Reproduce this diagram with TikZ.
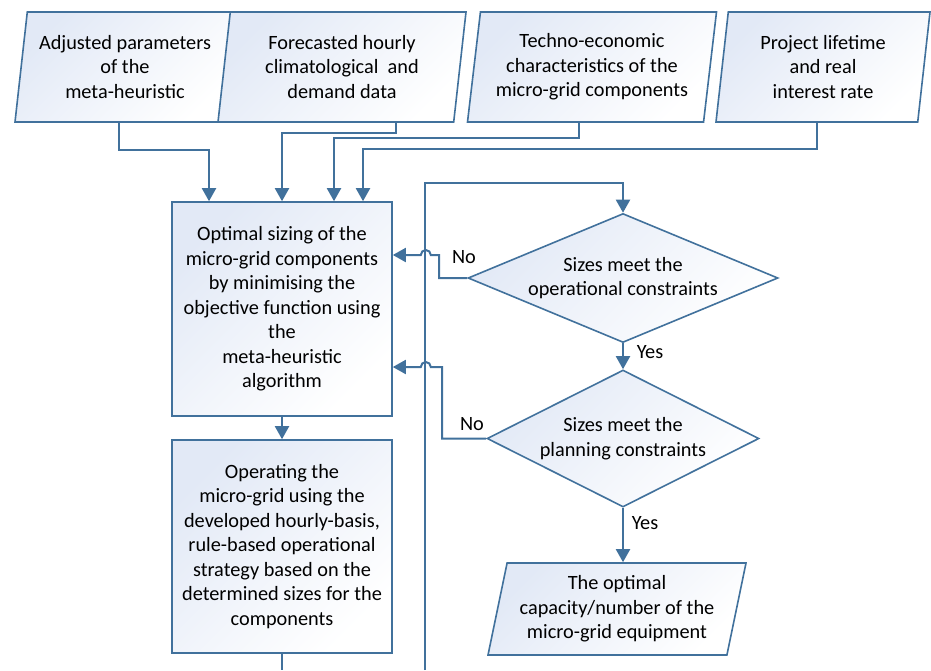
\documentclass[tikz,border=0pt]{standalone}
\usepackage{fontspec}
\setmainfont{Carlito}
\usetikzlibrary{shapes.geometric,arrows.meta}
\definecolor{edgeblue}{RGB}{65,113,156}
\definecolor{paleblue}{RGB}{226,233,246}
\begin{document}
\begin{tikzpicture}[x=1pt,y=-1pt,
		font=\fontsize{20.3}{24.5}\selectfont,
		shadebox/.style={draw=edgeblue,line width=1.6pt,top color=paleblue,bottom color=white,shading angle=45,align=center,inner sep=0pt},
		databox/.style={shadebox,trapezium,trapezium stretches body,trapezium left angle=79,trapezium right angle=101,minimum height=110},
		procbox/.style={shadebox,rectangle,minimum width=220},
		testbox/.style={shadebox,diamond},
		arr/.style={draw=edgeblue,line width=2pt,-{Triangle[width=14pt,length=13pt]}},
		link/.style={draw=edgeblue,line width=2pt},
		lbl/.style={inner sep=0pt}]
		\useasboundingbox (0,0) rectangle (931,670);
	
		\node[databox,minimum width=220](p1) at (125,67) {Adjusted parameters\\of the\\meta-heuristic};
		\node[databox,minimum width=248](p2) at (342,67) {Forecasted hourly\\climatological\ \ and\\demand data};
		\node[databox,minimum width=249](p3) at (592,67) {Techno-economic\\characteristics of the\\micro-grid components};
		\node[databox,minimum width=214](p4) at (823,67) {Project lifetime\\and real\\interest rate};
	
		\node[procbox,minimum height=214](opt) at (282,309) {Optimal sizing of the\\micro-grid components\\by minimising the\\objective function using\\the\\meta-heuristic\\algorithm};
		\node[procbox,minimum height=213](oper) at (282,546.5) {Operating the\\micro-grid using the\\developed hourly-basis,\\rule-based operational\\strategy based on the\\determined sizes for the\\components};
	
		\node[testbox,aspect=2.4,minimum width=310,minimum height=129](d1) at (623,278) {Sizes meet the\\operational constraints};
		\node[testbox,aspect=2,minimum width=272,minimum height=137](d2) at (623,438.5) {Sizes meet the\\planning constraints};
		\node[shadebox,trapezium,trapezium stretches body,trapezium left angle=74,trapezium right angle=106,minimum width=258,minimum height=92](out) at (617,609) {The optimal\\capacity/number of the\\micro-grid equipment};
	
		\node[lbl](no1) at (464,257) {No};
		\node[lbl](no2) at (472,424) {No};
		\node[lbl](yes1) at (650,352) {Yes};
		\node[lbl](yes2) at (645,523) {Yes};
	
		\coordinate (botL) at (282,670);
		\coordinate (botR) at (425,670);
	
		\draw[arr](p1.bottom side)--++(0,27)-|([xshift=-73pt]opt.north);
		\draw[arr](p2.bottom side)++(60,0)--++(0,10)-|(opt.north);
		\draw[arr](p3.bottom side)++(-6,0)--++(0,15)-|([xshift=52pt]opt.north);
		\draw[arr](p4.bottom side)--++(0,26)-|([xshift=81pt]opt.north);
	
		\draw[arr](opt.south)--(oper.north);
		\draw[link](oper.south)--(botL);
		\draw[arr](botR)|-([yshift=30pt]d1.north)--(d1.north);
	
		\draw[arr](d1.south)--(d2.north);
		\draw[arr](d2.south)--(d2.south|-out.top side);
	
		\draw[arr](d1.west)--++(-28,0)|-([xshift=38pt,yshift=54pt]opt.east) arc[start angle=0,end angle=-180,radius=5]--([yshift=54pt]opt.east);
		\draw[arr](d2.west)--++(-44,0)|-([xshift=38pt,yshift=-58pt]opt.east) arc[start angle=0,end angle=-180,radius=5]--([yshift=-58pt]opt.east);
	
	\end{tikzpicture}
\end{document}
